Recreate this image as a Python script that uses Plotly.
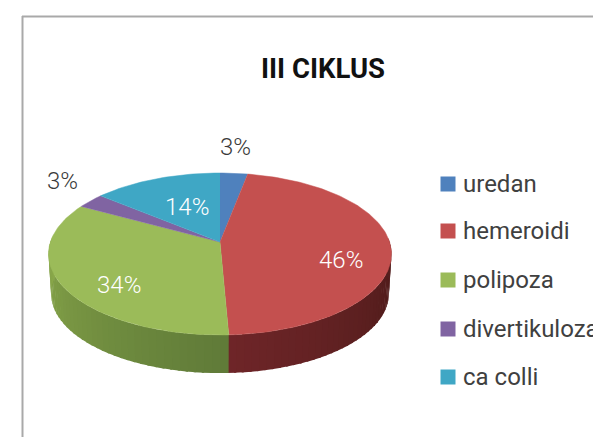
import math
import plotly.graph_objects as go

categories = ["uredan", "hemeroidi", "polipoza", "divertikuloza", "ca colli"]
values = [3, 46.3, 33.7, 3, 14]
labels = ["3%", "46%", "34%", "3%", "14%"]
colors = ["#4f81bd", "#c4504f", "#9bbb59", "#8064a2", "#3fa7c5"]
wall_near = {1: "#6e2528", 2: "#5f7a38"}
wall_far = {1: "#4a1a18", 2: "#89a84a"}

W, H = 601, 437
BODY = 8  # the page's default body margin; plot is sized to fill the rest of the window
CX, CY = 220, 242
A, B, K = 169.6, 79.2, 0.148


def project(theta, r=1.0, sx=1.0, sy=1.0, dy=0.0):
    u, v = r * math.sin(theta), r * math.cos(theta)
    w = 1 + K * v
    return CX + sx * A * u / w, CY + dy - sy * B * v / w


def mix(a, b, t):
    ca = [int(a[i:i + 2], 16) for i in (1, 3, 5)]
    cb = [int(b[i:i + 2], 16) for i in (1, 3, 5)]
    return "rgb(%d,%d,%d)" % tuple(round(p + (q - p) * t) for p, q in zip(ca, cb))


fig = go.Figure()
total = sum(values)
edges = [0.0]
for val in values:
    edges.append(edges[-1] + val / total * 2 * math.pi)

# side wall: only the slices that reach the front of the pie
for i in wall_near:
    a0, a1 = edges[i], edges[i + 1]
    lo, hi = max(a0, math.pi / 2 - 0.05), min(a1, 3 * math.pi / 2 + 0.05)
    n = 40
    for s in range(n):
        t0 = lo + (hi - lo) * s / n
        t1 = lo + (hi - lo) * (s + 1.3) / n
        top = [project(t0), project(t1)]
        bot = [project(t1, sx=0.985, sy=0.98, dy=40), project(t0, sx=0.985, sy=0.98, dy=40)]
        mid = (t0 + t1) / 2
        near_angle = a1 if i == 1 else a0
        frac = min(1.0, abs(mid - near_angle) / (hi - lo))
        fig.add_trace(go.Scatter(
            x=[p[0] for p in top + bot], y=[p[1] for p in top + bot],
            mode="lines", fill="toself", fillcolor=mix(wall_near[i], wall_far[i], frac),
            line=dict(width=0), hoverinfo="skip", showlegend=False))

# top face
for i, name in enumerate(categories):
    a0, a1 = edges[i], edges[i + 1]
    steps = max(4, int((a1 - a0) / 0.02))
    pts = [(CX, CY)] + [project(a0 + (a1 - a0) * s / steps) for s in range(steps + 1)]
    fig.add_trace(go.Scatter(
        x=[p[0] for p in pts], y=[p[1] for p in pts], mode="lines", fill="toself",
        fillcolor=colors[i], line=dict(width=0.5, color=colors[i]),
        name=name, showlegend=False, hoverinfo="skip"))

# legend column
legend_y = [184, 231, 280, 329, 377]
fig.add_trace(go.Scatter(
    x=[448] * len(categories), y=legend_y, mode="markers", hoverinfo="skip", showlegend=False,
    marker=dict(symbol="square", size=15, color=colors, line=dict(width=0))))

label_pos = [(235, 147, "#3a3a3a"), (341, 260, "#ffffff"), (119, 285, "#ffffff"),
             (62, 181, "#3a3a3a"), (187, 207, "#ffffff")]
annotations = [
    dict(x=px, y=py, xref="x", yref="y", text=t, showarrow=False,
         font=dict(family="Roboto", size=24, color=c, weight=300))
    for t, (px, py, c) in zip(labels, label_pos)
]
annotations.append(dict(x=323, y=68, xref="x", yref="y", text="III CIKLUS", showarrow=False,
                        font=dict(family="Roboto", size=27.5, color="#111111", weight=700)))
annotations += [
    dict(x=463, y=ly, xref="x", yref="y", xanchor="left", text=name, showarrow=False,
         xshift=-2, font=dict(family="Roboto", size=24, color="#404040"))
    for name, ly in zip(categories, legend_y)
]

fig.update_layout(
    width=W - BODY, height=H - BODY, margin=dict(l=0, r=0, t=0, b=0),
    paper_bgcolor="#ffffff", plot_bgcolor="#ffffff", showlegend=False,
    xaxis=dict(range=[BODY, W], visible=False, fixedrange=True),
    yaxis=dict(range=[H, BODY], visible=False, fixedrange=True),
    annotations=annotations,
    shapes=[
        dict(type="line", xref="x", yref="y", x0=22, y0=16.5, x1=W, y1=16.5,
             line=dict(color="#a9a9a9", width=2)),
        dict(type="line", xref="x", yref="y", x0=22.5, y0=16, x1=22.5, y1=H,
             line=dict(color="#a9a9a9", width=2)),
    ],
)

fig.write_html("out.html")
